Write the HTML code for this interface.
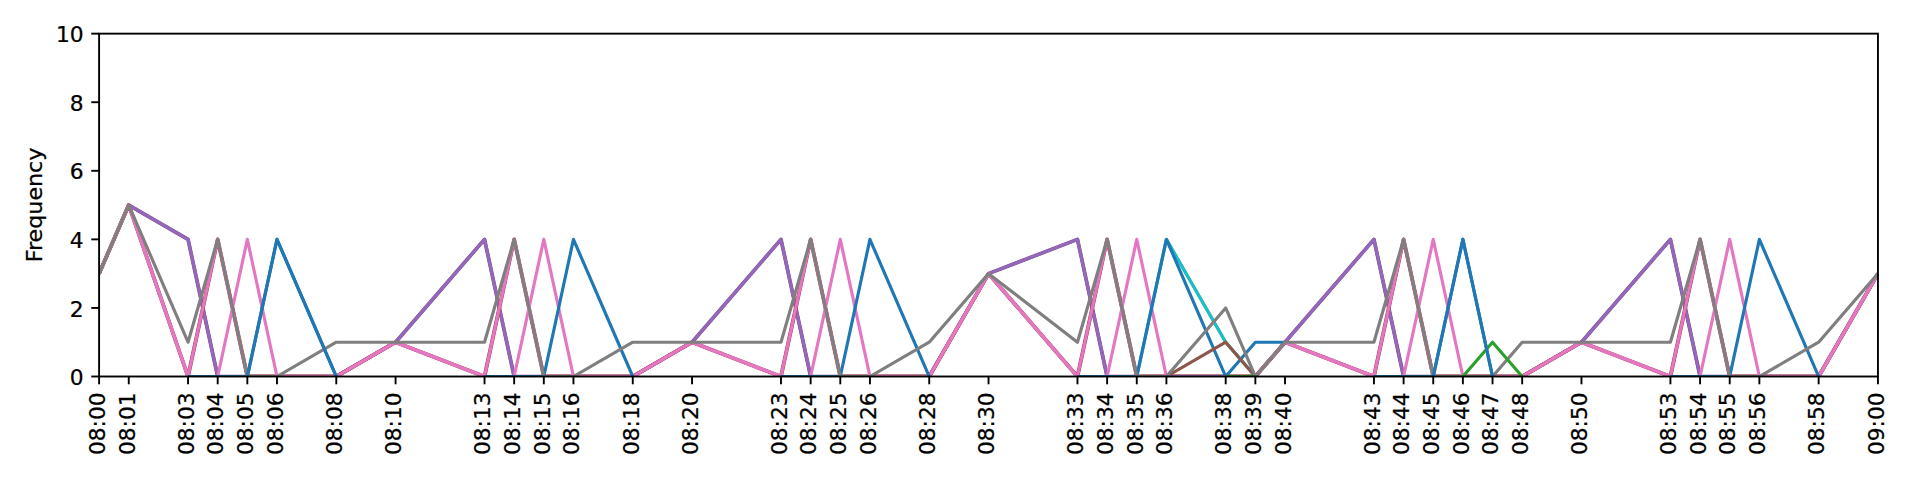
<!DOCTYPE html>
<html><head><meta charset="utf-8"><title>Frequency</title>
<style>html,body{margin:0;padding:0;background:#fff}svg{display:block}text{font-family:"DejaVu Sans","Liberation Sans",sans-serif;font-size:20.83px;fill:#000;stroke:#000;stroke-width:0.25px}</style></head><body>
<svg width="1913" height="479" viewBox="0 0 1913 479">
<rect width="1913" height="479" fill="#fff"/>
<defs><clipPath id="c"><rect x="99.10" y="33.65" width="1779.45" height="342.55"/></clipPath></defs>
<g clip-path="url(#c)" fill="none" stroke-linejoin="round" stroke-linecap="butt">
<polyline points="99.10,273.64 128.75,205.07 188.04,239.36 217.69,376.50 247.34,376.50 276.99,376.50 336.28,376.50 395.58,342.21 484.52,239.36 514.16,376.50 543.81,376.50 573.46,376.50 632.76,376.50 692.05,342.21 780.99,239.36 810.64,376.50 840.29,376.50 869.94,376.50 929.23,376.50 988.53,273.64 1077.47,239.36 1107.12,376.50 1136.76,376.50 1166.41,376.50 1225.70,376.50 1255.35,376.50 1285.00,342.21 1373.94,239.36 1403.59,376.50 1433.24,376.50 1462.88,376.50 1492.53,376.50 1522.18,376.50 1581.47,342.21 1670.42,239.36 1700.07,376.50 1729.71,376.50 1759.36,376.50 1818.65,376.50 1877.95,273.64" stroke="#7a4a78" stroke-width="3.7"/>
<polyline points="99.10,273.64 128.75,205.07 188.04,239.36 217.69,376.50 247.34,376.50 276.99,376.50 336.28,376.50 395.58,342.21 484.52,239.36 514.16,376.50 543.81,376.50 573.46,376.50 632.76,376.50 692.05,342.21 780.99,239.36 810.64,376.50 840.29,376.50 869.94,376.50 929.23,376.50 988.53,273.64 1077.47,239.36 1107.12,376.50 1136.76,376.50 1166.41,376.50 1225.70,376.50 1255.35,376.50 1285.00,342.21 1373.94,239.36 1403.59,376.50 1433.24,376.50 1462.88,376.50 1492.53,376.50 1522.18,376.50 1581.47,342.21 1670.42,239.36 1700.07,376.50 1729.71,376.50 1759.36,376.50 1818.65,376.50 1877.95,273.64" stroke="#9467bd" stroke-width="3.15"/>
<polyline points="99.10,273.64 128.75,205.07 188.04,376.50 217.69,239.36 247.34,376.50 276.99,376.50 336.28,376.50 395.58,342.21 484.52,376.50 514.16,239.36 543.81,376.50 573.46,376.50 632.76,376.50 692.05,342.21 780.99,376.50 810.64,239.36 840.29,376.50 869.94,376.50 929.23,376.50 988.53,273.64 1077.47,376.50 1107.12,239.36 1136.76,376.50 1166.41,376.50 1225.70,376.50 1255.35,376.50 1285.00,342.21 1373.94,376.50 1403.59,239.36 1433.24,376.50 1462.88,376.50 1492.53,376.50 1522.18,376.50 1581.47,342.21 1670.42,376.50 1700.07,239.36 1729.71,376.50 1759.36,376.50 1818.65,376.50 1877.95,273.64" stroke="#a8323a" stroke-width="3.8"/>
<polyline points="99.10,273.64 128.75,205.07 188.04,376.50 217.69,239.36 247.34,376.50 276.99,376.50 336.28,376.50 395.58,342.21 484.52,376.50 514.16,239.36 543.81,376.50 573.46,376.50 632.76,376.50 692.05,342.21 780.99,376.50 810.64,239.36 840.29,376.50 869.94,376.50 929.23,376.50 988.53,273.64 1077.47,376.50 1107.12,239.36 1136.76,376.50 1166.41,376.50 1225.70,376.50 1255.35,376.50 1285.00,342.21 1373.94,376.50 1403.59,239.36 1433.24,376.50 1462.88,376.50 1492.53,376.50 1522.18,376.50 1581.47,342.21 1670.42,376.50 1700.07,239.36 1729.71,376.50 1759.36,376.50 1818.65,376.50 1877.95,273.64" stroke="#e377c2" stroke-width="3.15"/>
<polyline points="99.10,273.64 128.75,205.07 188.04,376.50 217.69,376.50 247.34,239.36 276.99,376.50 336.28,376.50 395.58,342.21 484.52,376.50 514.16,376.50 543.81,239.36 573.46,376.50 632.76,376.50 692.05,342.21 780.99,376.50 810.64,376.50 840.29,239.36 869.94,376.50 929.23,376.50 988.53,273.64 1077.47,376.50 1107.12,376.50 1136.76,239.36 1166.41,376.50 1225.70,376.50 1255.35,376.50 1285.00,342.21 1373.94,376.50 1403.59,376.50 1433.24,239.36 1462.88,376.50 1492.53,376.50 1522.18,376.50 1581.47,342.21 1670.42,376.50 1700.07,376.50 1729.71,239.36 1759.36,376.50 1818.65,376.50 1877.95,273.64" stroke="#e377c2" stroke-width="3.15"/>
<polyline points="1166.41,239.36 1225.70,342.21 1255.35,376.50" stroke="#bcbd22" stroke-width="3.15"/>
<polyline points="1166.41,239.36 1225.70,342.21 1255.35,376.50" stroke="#17becf" stroke-width="3.15"/>
<polyline points="188.04,376.50 217.69,376.50 247.34,376.50 276.99,239.36 336.28,376.50" stroke="#1f77b4" stroke-width="3.15"/>
<polyline points="484.52,376.50 514.16,376.50 543.81,376.50 573.46,239.36 632.76,376.50" stroke="#1f77b4" stroke-width="3.15"/>
<polyline points="780.99,376.50 810.64,376.50 840.29,376.50 869.94,239.36 929.23,376.50" stroke="#1f77b4" stroke-width="3.15"/>
<polyline points="1136.76,376.50 1166.41,239.36" stroke="#17becf" stroke-width="3.15"/>
<polyline points="1077.47,376.50 1107.12,376.50 1136.76,376.50 1166.41,239.36 1225.70,376.50 1255.35,342.21 1285.00,342.21" stroke="#1f77b4" stroke-width="3.15"/>
<polyline points="1373.94,376.50 1403.59,376.50 1433.24,376.50 1462.88,239.36 1492.53,376.50" stroke="#1f77b4" stroke-width="3.15"/>
<polyline points="1670.42,376.50 1700.07,376.50 1729.71,376.50 1759.36,239.36 1818.65,376.50" stroke="#1f77b4" stroke-width="3.15"/>
<polyline points="1166.41,376.50 1225.70,342.21 1255.35,376.50" stroke="#8c564b" stroke-width="3.15"/>
<polyline points="99.10,273.64 128.75,205.07 188.04,342.21 217.69,239.36 247.34,376.50 276.99,376.50 336.28,342.21 395.58,342.21 484.52,342.21 514.16,239.36 543.81,376.50 573.46,376.50 632.76,342.21 692.05,342.21 780.99,342.21 810.64,239.36 840.29,376.50 869.94,376.50 929.23,342.21 988.53,273.64 1077.47,342.21 1107.12,239.36 1136.76,376.50 1166.41,376.50 1225.70,307.93 1255.35,376.50 1285.00,342.21 1373.94,342.21 1403.59,239.36 1433.24,376.50 1462.88,376.50 1492.53,376.50 1522.18,342.21 1581.47,342.21 1670.42,342.21 1700.07,239.36 1729.71,376.50 1759.36,376.50 1818.65,342.21 1877.95,273.64" stroke="#7f7f7f" stroke-width="3.15"/>
<polyline points="1462.88,376.50 1492.53,342.21 1522.18,376.50" stroke="#2ca02c" stroke-width="3.15"/>
<polyline points="1433.24,376.50 1462.88,239.36 1492.53,376.50" stroke="#1f77b4" stroke-width="3.15"/>
<polyline points="247.34,376.50 276.99,239.36 336.28,376.50" stroke="#1f77b4" stroke-width="3.15"/>
<polyline points="1166.41,376.50 1225.70,376.50" stroke="#9467bd" stroke-width="3.15"/>
<polyline points="1225.70,376.50 1255.35,376.50" stroke="#2ca02c" stroke-width="3.15"/>
</g>
<g stroke="#000" stroke-width="1.9" fill="none">
<line x1="99.10" y1="376.50" x2="99.10" y2="384.30"/>
<line x1="128.75" y1="376.50" x2="128.75" y2="384.30"/>
<line x1="188.04" y1="376.50" x2="188.04" y2="384.30"/>
<line x1="217.69" y1="376.50" x2="217.69" y2="384.30"/>
<line x1="247.34" y1="376.50" x2="247.34" y2="384.30"/>
<line x1="276.99" y1="376.50" x2="276.99" y2="384.30"/>
<line x1="336.28" y1="376.50" x2="336.28" y2="384.30"/>
<line x1="395.58" y1="376.50" x2="395.58" y2="384.30"/>
<line x1="484.52" y1="376.50" x2="484.52" y2="384.30"/>
<line x1="514.16" y1="376.50" x2="514.16" y2="384.30"/>
<line x1="543.81" y1="376.50" x2="543.81" y2="384.30"/>
<line x1="573.46" y1="376.50" x2="573.46" y2="384.30"/>
<line x1="632.76" y1="376.50" x2="632.76" y2="384.30"/>
<line x1="692.05" y1="376.50" x2="692.05" y2="384.30"/>
<line x1="780.99" y1="376.50" x2="780.99" y2="384.30"/>
<line x1="810.64" y1="376.50" x2="810.64" y2="384.30"/>
<line x1="840.29" y1="376.50" x2="840.29" y2="384.30"/>
<line x1="869.94" y1="376.50" x2="869.94" y2="384.30"/>
<line x1="929.23" y1="376.50" x2="929.23" y2="384.30"/>
<line x1="988.53" y1="376.50" x2="988.53" y2="384.30"/>
<line x1="1077.47" y1="376.50" x2="1077.47" y2="384.30"/>
<line x1="1107.12" y1="376.50" x2="1107.12" y2="384.30"/>
<line x1="1136.76" y1="376.50" x2="1136.76" y2="384.30"/>
<line x1="1166.41" y1="376.50" x2="1166.41" y2="384.30"/>
<line x1="1225.70" y1="376.50" x2="1225.70" y2="384.30"/>
<line x1="1255.35" y1="376.50" x2="1255.35" y2="384.30"/>
<line x1="1285.00" y1="376.50" x2="1285.00" y2="384.30"/>
<line x1="1373.94" y1="376.50" x2="1373.94" y2="384.30"/>
<line x1="1403.59" y1="376.50" x2="1403.59" y2="384.30"/>
<line x1="1433.24" y1="376.50" x2="1433.24" y2="384.30"/>
<line x1="1462.88" y1="376.50" x2="1462.88" y2="384.30"/>
<line x1="1492.53" y1="376.50" x2="1492.53" y2="384.30"/>
<line x1="1522.18" y1="376.50" x2="1522.18" y2="384.30"/>
<line x1="1581.47" y1="376.50" x2="1581.47" y2="384.30"/>
<line x1="1670.42" y1="376.50" x2="1670.42" y2="384.30"/>
<line x1="1700.07" y1="376.50" x2="1700.07" y2="384.30"/>
<line x1="1729.71" y1="376.50" x2="1729.71" y2="384.30"/>
<line x1="1759.36" y1="376.50" x2="1759.36" y2="384.30"/>
<line x1="1818.65" y1="376.50" x2="1818.65" y2="384.30"/>
<line x1="1877.95" y1="376.50" x2="1877.95" y2="384.30"/>
<line x1="99.10" y1="376.50" x2="91.30" y2="376.50"/>
<line x1="99.10" y1="307.93" x2="91.30" y2="307.93"/>
<line x1="99.10" y1="239.36" x2="91.30" y2="239.36"/>
<line x1="99.10" y1="170.79" x2="91.30" y2="170.79"/>
<line x1="99.10" y1="102.22" x2="91.30" y2="102.22"/>
<line x1="99.10" y1="33.65" x2="91.30" y2="33.65"/>
<rect x="99.10" y="33.65" width="1778.85" height="342.85" stroke-linejoin="miter"/>
</g>
<text transform="translate(83.60,385.10) scale(1.045,1)" text-anchor="end">0</text>
<text transform="translate(83.60,316.53) scale(1.045,1)" text-anchor="end">2</text>
<text transform="translate(83.60,247.96) scale(1.045,1)" text-anchor="end">4</text>
<text transform="translate(83.60,179.39) scale(1.045,1)" text-anchor="end">6</text>
<text transform="translate(83.60,110.82) scale(1.045,1)" text-anchor="end">8</text>
<text transform="translate(83.60,42.25) scale(1.045,1)" text-anchor="end">10</text>
<text transform="translate(104.85,455.10) rotate(-90) scale(1.045,1)">08:00</text>
<text transform="translate(134.50,455.10) rotate(-90) scale(1.045,1)">08:01</text>
<text transform="translate(193.79,455.10) rotate(-90) scale(1.045,1)">08:03</text>
<text transform="translate(223.44,455.10) rotate(-90) scale(1.045,1)">08:04</text>
<text transform="translate(253.09,455.10) rotate(-90) scale(1.045,1)">08:05</text>
<text transform="translate(282.74,455.10) rotate(-90) scale(1.045,1)">08:06</text>
<text transform="translate(342.03,455.10) rotate(-90) scale(1.045,1)">08:08</text>
<text transform="translate(401.33,455.10) rotate(-90) scale(1.045,1)">08:10</text>
<text transform="translate(490.27,455.10) rotate(-90) scale(1.045,1)">08:13</text>
<text transform="translate(519.91,455.10) rotate(-90) scale(1.045,1)">08:14</text>
<text transform="translate(549.56,455.10) rotate(-90) scale(1.045,1)">08:15</text>
<text transform="translate(579.21,455.10) rotate(-90) scale(1.045,1)">08:16</text>
<text transform="translate(638.51,455.10) rotate(-90) scale(1.045,1)">08:18</text>
<text transform="translate(697.80,455.10) rotate(-90) scale(1.045,1)">08:20</text>
<text transform="translate(786.74,455.10) rotate(-90) scale(1.045,1)">08:23</text>
<text transform="translate(816.39,455.10) rotate(-90) scale(1.045,1)">08:24</text>
<text transform="translate(846.04,455.10) rotate(-90) scale(1.045,1)">08:25</text>
<text transform="translate(875.69,455.10) rotate(-90) scale(1.045,1)">08:26</text>
<text transform="translate(934.98,455.10) rotate(-90) scale(1.045,1)">08:28</text>
<text transform="translate(994.28,455.10) rotate(-90) scale(1.045,1)">08:30</text>
<text transform="translate(1083.22,455.10) rotate(-90) scale(1.045,1)">08:33</text>
<text transform="translate(1112.87,455.10) rotate(-90) scale(1.045,1)">08:34</text>
<text transform="translate(1142.51,455.10) rotate(-90) scale(1.045,1)">08:35</text>
<text transform="translate(1172.16,455.10) rotate(-90) scale(1.045,1)">08:36</text>
<text transform="translate(1231.45,455.10) rotate(-90) scale(1.045,1)">08:38</text>
<text transform="translate(1261.10,455.10) rotate(-90) scale(1.045,1)">08:39</text>
<text transform="translate(1290.75,455.10) rotate(-90) scale(1.045,1)">08:40</text>
<text transform="translate(1379.69,455.10) rotate(-90) scale(1.045,1)">08:43</text>
<text transform="translate(1409.34,455.10) rotate(-90) scale(1.045,1)">08:44</text>
<text transform="translate(1438.99,455.10) rotate(-90) scale(1.045,1)">08:45</text>
<text transform="translate(1468.63,455.10) rotate(-90) scale(1.045,1)">08:46</text>
<text transform="translate(1498.28,455.10) rotate(-90) scale(1.045,1)">08:47</text>
<text transform="translate(1527.93,455.10) rotate(-90) scale(1.045,1)">08:48</text>
<text transform="translate(1587.22,455.10) rotate(-90) scale(1.045,1)">08:50</text>
<text transform="translate(1676.17,455.10) rotate(-90) scale(1.045,1)">08:53</text>
<text transform="translate(1705.82,455.10) rotate(-90) scale(1.045,1)">08:54</text>
<text transform="translate(1735.46,455.10) rotate(-90) scale(1.045,1)">08:55</text>
<text transform="translate(1765.11,455.10) rotate(-90) scale(1.045,1)">08:56</text>
<text transform="translate(1824.40,455.10) rotate(-90) scale(1.045,1)">08:58</text>
<text transform="translate(1883.70,455.10) rotate(-90) scale(1.045,1)">09:00</text>
<text transform="translate(42.00,204.88) rotate(-90) scale(1.067,1)" text-anchor="middle">Frequency</text>
</svg></body></html>
